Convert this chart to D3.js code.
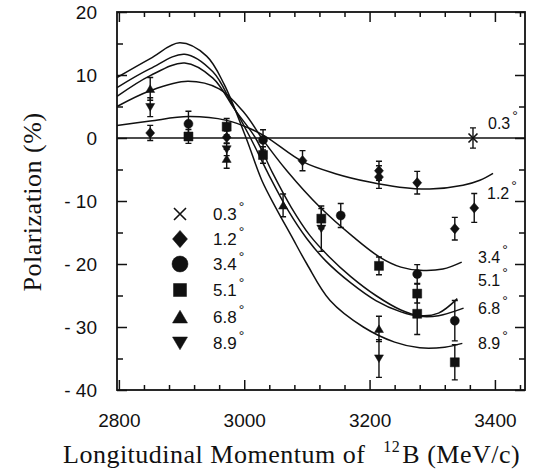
<!DOCTYPE html>
<html>
<head>
<meta charset="utf-8">
<script src="https://cdn.jsdelivr.net/npm/d3@7"></script>
<style>
  body { margin: 0; background: #fff; }
  svg { display: block; }
</style>
</head>
<body>
<svg id="chart" width="539" height="475"></svg>
<script>
// ---- data -------------------------------------------------------------
const xMajorTicks = [2800, 3000, 3200, 3400];
const yMajorTicks = [20, 10, 0, -10, -20, -30, -40];
const angleLabels = ["0.3", "1.2", "3.4", "5.1", "6.8", "8.9"];
const symbolNames = ["cross", "diamond", "circle", "square", "triangleUp", "triangleDown"];

// calculated polarization curves: [momentum MeV/c, polarization %]
const curve03 = [[2797, 0], [3448, 0]];
const curve12 = [[2797, 2.0], [2850, 2.7], [2911, 3.4], [2972, 2.8], [3009, 1.5], [3036, 0.1],
  [3094, -3.8], [3147, -5.7], [3200, -7.0], [3248, -7.8], [3296, -8.1], [3349, -7.5],
  [3376, -6.7], [3397, -5.6]];
const curve34 = [[2797, 5.0], [2850, 7.5], [2910, 9.0], [2960, 7.8], [3000, 4.0], [3030, -0.3],
  [3068, -5.2], [3121, -11.0], [3174, -15.7], [3216, -18.9], [3250, -20.5], [3280, -21.0],
  [3317, -20.8], [3347, -19.7]];
const curve51 = [[2797, 6.6], [2850, 9.9], [2905, 11.9], [2950, 9.5], [2985, 4.5], [3018, 0],
  [3045, -5.5], [3075, -11.0], [3105, -15.5], [3135, -18.8], [3170, -22.0], [3210, -25.0],
  [3250, -27.3], [3280, -28.2], [3310, -27.8], [3340, -25.5]];
const curve68 = [[2797, 8.0], [2850, 11.0], [2905, 13.3], [2950, 10.5], [2980, 5.5], [3010, 0],
  [3040, -6.0], [3070, -11.5], [3100, -16.0], [3130, -19.5], [3170, -23.0], [3210, -25.8],
  [3250, -27.6], [3280, -28.3], [3310, -28.2], [3350, -27.0]];
const curve89 = [[2797, 9.6], [2850, 12.6], [2897, 15.1], [2940, 13.0], [2968, 8.5], [3003, 0],
  [3028, -6.7], [3050, -11.0], [3075, -15.5], [3100, -20.0], [3137, -25.8], [3190, -30.0],
  [3240, -32.4], [3280, -33.3], [3320, -33.2], [3348, -32.6]];

// measured points: [momentum MeV/c, polarization %, error %]
const data03 = [[3365, 0, 1.6]];
const data12 = [[2850, 0.8, 1.2], [2972, 0.1, 1.0], [3093, -3.6, 1.6], [3215, -5.2, 1.5],
  [3215, -6.2, 1.8], [3276, -7.1, 1.8], [3336, -14.4, 1.8], [3367, -11.1, 2.3]];
const data34 = [[2911, 2.25, 2.0], [3030, -0.3, 1.6], [3154, -12.3, 1.9], [3276, -21.6, 1.5],
  [3336, -29.0, 3.2]];
const data51 = [[2911, 0.24, 1.1], [2972, 1.8, 1.3], [3030, -2.7, 1.3], [3123, -12.8, 1.6],
  [3215, -20.3, 1.4], [3276, -24.7, 1.5], [3276, -27.9, 3.3], [3336, -35.6, 2.8]];
const data68 = [[2850, 7.8, 1.8], [2972, -3.3, 1.5], [3062, -10.7, 1.8], [3215, -30.3, 2.0]];
const data89 = [[2850, 4.9, 1.5], [2972, -1.8, 1.0], [3123, -14.4, 3.6], [3215, -35.0, 3.0]];

const curves = [curve03, curve12, curve34, curve51, curve68, curve89];
const measurements = [data03, data12, data34, data51, data68, data89];

// ---- layout ---------------------------------------------------------------
const svg = d3.select("#chart");
const frame = { left: 117, right: 525, top: 12, bottom: 390 };
const x = d3.scaleLinear().domain([2797, 3448]).range([frame.left, frame.right]);
const y = d3.scaleLinear().domain([-40, 20]).range([frame.bottom, frame.top]);
const ink = "#111";
const sans = "'Liberation Sans', Arial, Helvetica, sans-serif";
const serif = "'Liberation Serif', 'Times New Roman', Times, serif";

// ---- axes (inward ticks on all four sides) ------------------------------
const xMinor = d3.range(2840, 3441, 40).filter(v => !xMajorTicks.includes(v));
const yMinor = d3.range(-35, 20, 10);
const fmtY = d => d < 0 ? "- " + Math.abs(d) : String(d);

function styleAxis(g) {
  g.select(".domain").remove();
  g.selectAll(".tick line").attr("stroke", ink).attr("stroke-width", 1.5);
  g.selectAll(".tick text").attr("fill", ink).style("font-family", sans).style("font-size", "19px");
}

svg.append("g").attr("transform", `translate(0,${frame.bottom})`)
  .call(d3.axisBottom(x).tickValues(xMajorTicks).tickSize(-10).tickPadding(24).tickFormat(d3.format("d")))
  .call(styleAxis);
svg.append("g").attr("transform", `translate(0,${frame.bottom})`)
  .call(d3.axisBottom(x).tickValues(xMinor).tickSize(-5).tickFormat(""))
  .call(styleAxis);
svg.append("g").attr("transform", `translate(0,${frame.top})`)
  .call(d3.axisTop(x).tickValues(xMajorTicks).tickSize(-10).tickFormat(""))
  .call(styleAxis);
svg.append("g").attr("transform", `translate(0,${frame.top})`)
  .call(d3.axisTop(x).tickValues(xMinor).tickSize(-5).tickFormat(""))
  .call(styleAxis);

svg.append("g").attr("transform", `translate(${frame.left},0)`)
  .call(d3.axisLeft(y).tickValues(yMajorTicks).tickSize(-10).tickPadding(20).tickFormat(fmtY))
  .call(styleAxis);
svg.append("g").attr("transform", `translate(${frame.left},0)`)
  .call(d3.axisLeft(y).tickValues(yMinor).tickSize(-6).tickFormat(""))
  .call(styleAxis);
svg.append("g").attr("transform", `translate(${frame.right},0)`)
  .call(d3.axisRight(y).tickValues(yMajorTicks).tickSize(-10).tickFormat(""))
  .call(styleAxis);
svg.append("g").attr("transform", `translate(${frame.right},0)`)
  .call(d3.axisRight(y).tickValues(yMinor).tickSize(-6).tickFormat(""))
  .call(styleAxis);

svg.append("rect")
  .attr("x", frame.left).attr("y", frame.top)
  .attr("width", frame.right - frame.left).attr("height", frame.bottom - frame.top)
  .attr("fill", "none").attr("stroke", ink).attr("stroke-width", 1.8);

// ---- curves -------------------------------------------------------------
const line = d3.line().x(d => x(d[0])).y(d => y(d[1])).curve(d3.curveCatmullRom.alpha(0.5));
svg.append("g").selectAll("path").data(curves).join("path")
  .attr("d", line).attr("fill", "none").attr("stroke", ink).attr("stroke-width", 1.5);

// ---- markers ------------------------------------------------------------
function markerPath(name, s) {
  const h = s / 2;
  switch (name) {
    case "cross": return `M${-h},${-h}L${h},${h}M${-h},${h}L${h},${-h}`;
    case "diamond": return `M0,${-h * 1.15}L${h},0L0,${h * 1.15}L${-h},0Z`;
    case "square": return `M${-h},${-h}H${h}V${h}H${-h}Z`;
    case "triangleUp": return `M0,${-h * 0.9}L${h},${h * 0.8}L${-h},${h * 0.8}Z`;
    case "triangleDown": return `M0,${h * 0.9}L${h},${-h * 0.8}L${-h},${-h * 0.8}Z`;
    default: return d3.symbol(d3.symbolCircle, Math.PI * h * h)();
  }
}
function drawMarker(g, name, s) {
  g.append("path").attr("d", markerPath(name, s))
    .attr("fill", name === "cross" ? "none" : ink)
    .attr("stroke", ink).attr("stroke-width", name === "cross" ? 1.6 : 0.5);
}

const pts = svg.append("g");
measurements.forEach((series, i) => {
  series.forEach(([m, p, e]) => {
    const cx = x(m), g = pts.append("g");
    // error bar with caps
    g.append("path")
      .attr("d", `M${cx},${y(p + e)}V${y(p - e)}M${cx - 3},${y(p + e)}H${cx + 3}M${cx - 3},${y(p - e)}H${cx + 3}`)
      .attr("stroke", ink).attr("stroke-width", 1.4).attr("fill", "none");
    const mg = g.append("g").attr("transform", `translate(${cx},${y(p)})`);
    drawMarker(mg, symbolNames[i], symbolNames[i] === "cross" ? 9 : 9);
  });
});

// ---- legend -------------------------------------------------------------
const legendRows = [214, 239, 264, 290, 317, 343];
const legendSizes = [12, 15, 16, 13, 15, 15];
const legend = svg.append("g");
angleLabels.forEach((lab, i) => {
  const mg = legend.append("g").attr("transform", `translate(180,${legendRows[i]})`);
  drawMarker(mg, symbolNames[i], legendSizes[i]);
  const t = legend.append("text").attr("x", 213).attr("y", legendRows[i] + 6)
    .attr("fill", ink).style("font-family", sans).style("font-size", "17px");
  t.append("tspan").text(lab);
  t.append("tspan").attr("dx", 2).attr("dy", -8).style("font-size", "14px").text("°");
});

// ---- curve labels at the right ------------------------------------------
const curveLabelPos = [[488, 123], [487, 193], [478, 257], [478, 280], [478, 308], [478, 343]];
angleLabels.forEach((lab, i) => {
  const t = svg.append("text").attr("x", curveLabelPos[i][0]).attr("y", curveLabelPos[i][1] + 6)
    .attr("fill", ink).style("font-family", sans).style("font-size", "16px");
  t.append("tspan").text(lab);
  t.append("tspan").attr("dx", 2).attr("dy", -8).style("font-size", "14px").text("°");
});

// ---- axis titles --------------------------------------------------------
svg.append("text")
  .attr("transform", "translate(41,202) rotate(-90)")
  .attr("text-anchor", "middle").attr("fill", ink)
  .style("font-family", serif).style("font-size", "26px").style("letter-spacing", "0.5px")
  .text("Polarization (%)");

const xt = svg.append("text").attr("x", 63).attr("y", 463).attr("fill", ink)
  .style("font-family", serif).style("font-size", "26px").style("letter-spacing", "0.5px");
xt.append("tspan").text("Longitudinal Momentum of");
xt.append("tspan").attr("dx", 18).attr("dy", -11).style("font-size", "16px").text("12");
xt.append("tspan").attr("dx", 2).attr("dy", 11).text("B (MeV/c)");
</script>
</body>
</html>
